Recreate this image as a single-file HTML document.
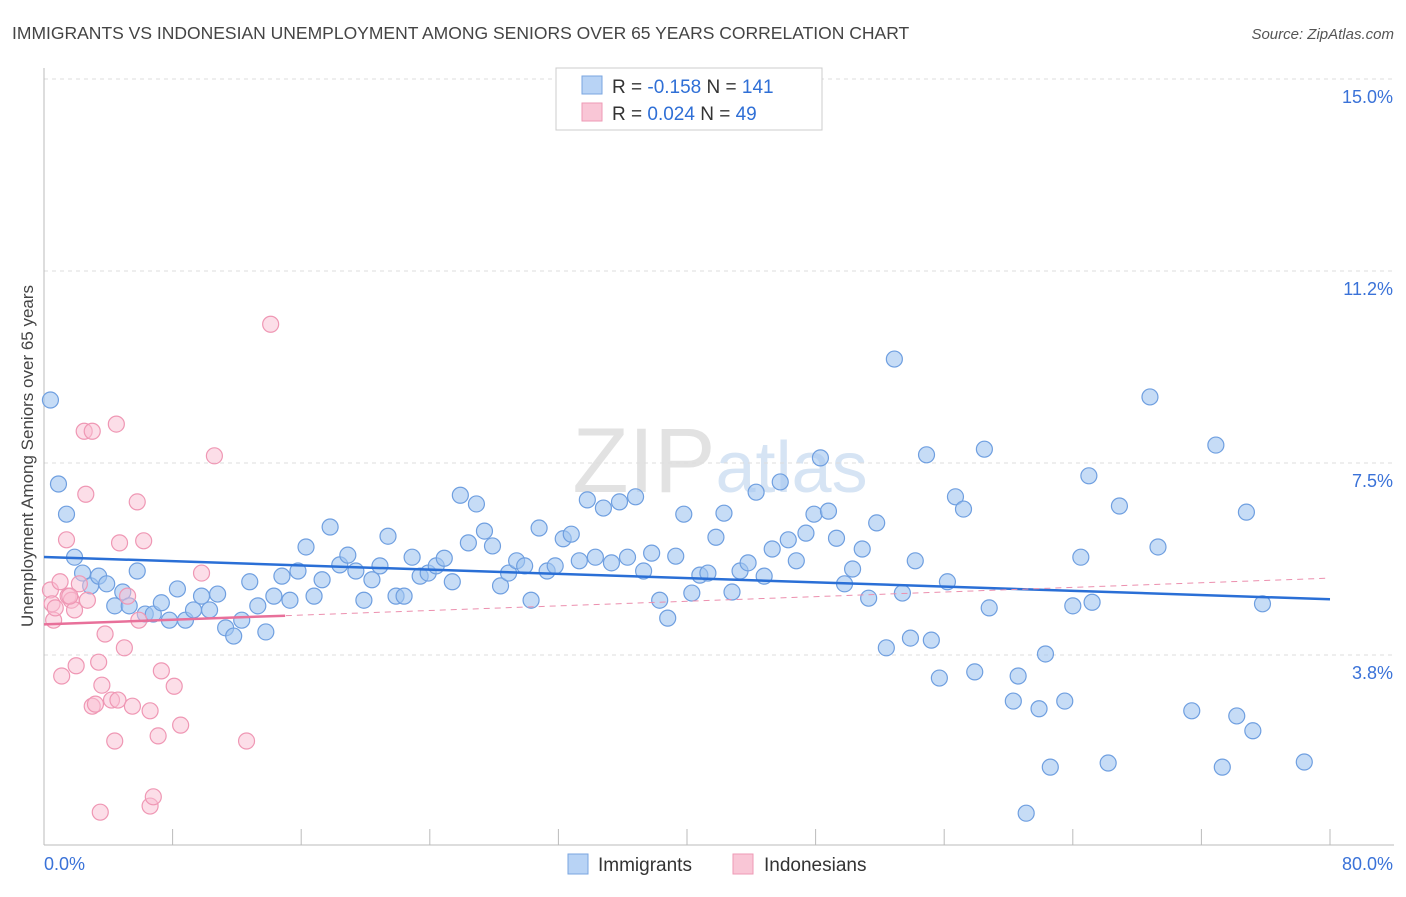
<!DOCTYPE html>
<html><head><meta charset="utf-8"><style>
body{margin:0;background:#fff;font-family:"Liberation Sans",sans-serif;}
svg text{font-family:"Liberation Sans",sans-serif;}
</style></head><body>
<svg id="chart" width="1406" height="892" viewBox="0 0 1406 892" xmlns="http://www.w3.org/2000/svg">
<text x="12" y="39" font-size="17.5" fill="#444">IMMIGRANTS VS INDONESIAN UNEMPLOYMENT AMONG SENIORS OVER 65 YEARS CORRELATION CHART</text>
<text x="1394" y="39" font-size="15" fill="#555" text-anchor="end" font-style="italic">Source: ZipAtlas.com</text>
<text x="720" y="492" font-size="92" fill="#e6e6e6" text-anchor="middle" font-family="Liberation Serif"><tspan fill="#e2e2e2">ZIP</tspan><tspan fill="#d6e4f4" font-family="Liberation Sans" font-size="72">atlas</tspan></text>
<g id="grid"></g>
<g id="axes"></g>
<g id="marks"></g>
<text transform="translate(33,456) rotate(-90)" font-size="17" fill="#444" text-anchor="middle">Unemployment Among Seniors over 65 years</text>
<g>
<rect x="556" y="68" width="266" height="62" fill="#fff" stroke="#ccc"/>
<rect x="582" y="76" width="20" height="18" fill="#b8d3f5" stroke="#7aa6e0"/>
<rect x="582" y="103" width="20" height="18" fill="#f9c6d6" stroke="#ee9ab5"/>
<text x="612" y="93" font-size="19" fill="#333">R = <tspan fill="#2f6fd6">-0.158</tspan>   N = <tspan fill="#2f6fd6">141</tspan></text>
<text x="612" y="120" font-size="19" fill="#333">R =  <tspan fill="#2f6fd6">0.024</tspan>   N =  <tspan fill="#2f6fd6">49</tspan></text>
</g>
<g>
<rect x="568" y="854" width="20" height="20" fill="#b8d3f5" stroke="#7aa6e0"/>
<text x="598" y="871" font-size="19" fill="#333">Immigrants</text>
<rect x="733" y="854" width="20" height="20" fill="#f9c6d6" stroke="#ee9ab5"/>
<text x="764" y="871" font-size="19" fill="#333">Indonesians</text>
</g>
</svg>
<script>
const blueX=[0.4,0.9,1.4,1.9,2.4,2.9,3.4,3.9,4.4,4.9,5.3,5.8,6.3,6.8,7.3,7.8,8.3,8.8,9.3,9.8,10.3,10.8,11.3,11.8,12.3,12.8,13.3,13.8,14.3,14.8,15.3,15.8,16.3,16.8,17.3,17.8,18.4,18.9,19.4,19.9,20.4,20.9,21.4,21.9,22.4,22.9,23.4,23.9,24.4,24.9,25.4,25.9,26.4,26.9,27.4,27.9,28.4,28.9,29.4,29.9,30.3,30.8,31.3,31.8,32.3,32.8,33.3,33.8,34.3,34.8,35.3,35.8,36.3,36.8,37.3,37.8,38.3,38.8,39.3,39.8,40.3,40.8,41.3,41.8,42.3,42.8,43.3,43.8,44.3,44.8,45.3,45.8,46.3,46.8,47.4,47.9,48.3,48.8,49.3,49.8,50.3,50.9,51.3,51.8,52.4,52.9,53.4,53.9,54.2,54.9,55.2,55.7,56.2,56.7,57.2,57.9,58.5,58.8,60.3,60.6,61.1,61.9,62.3,62.6,63.5,64.0,64.5,65.0,65.2,66.2,66.9,68.8,69.3,71.4,72.9,73.3,74.2,74.8,75.2,75.8,78.4];
const blueY=[8.73,7.09,6.50,5.66,5.35,5.10,5.29,5.14,4.71,4.98,4.71,5.39,4.55,4.55,4.77,4.43,5.04,4.43,4.63,4.90,4.63,4.94,4.28,4.12,4.43,5.18,4.71,4.20,4.90,5.29,4.82,5.39,5.86,4.90,5.22,6.25,5.51,5.70,5.39,4.82,5.22,5.49,6.07,4.90,4.90,5.66,5.29,5.35,5.49,5.64,5.18,6.87,5.94,6.70,6.17,5.88,5.10,5.35,5.59,5.49,4.82,6.23,5.39,5.49,6.02,6.11,5.59,6.78,5.66,6.62,5.55,6.74,5.66,6.84,5.39,5.74,4.82,4.47,5.68,6.50,4.96,5.31,5.35,6.05,6.52,4.98,5.39,5.55,6.93,5.29,5.82,7.13,6.00,5.59,6.13,6.50,7.60,6.56,6.03,5.14,5.43,5.82,4.86,6.33,3.89,9.53,4.96,4.08,5.59,7.66,4.04,3.30,5.18,6.84,6.60,3.42,7.77,4.67,2.85,3.34,0.66,2.70,3.77,1.56,2.85,4.71,5.66,7.25,4.78,1.64,6.66,8.79,5.86,2.66,7.85,1.56,2.56,6.54,2.27,4.75,1.66];
const pinkX=[0.4,0.5,0.6,0.7,1.0,1.1,1.4,1.5,1.7,1.9,2.0,2.2,2.5,2.6,2.7,3.0,3.0,3.2,3.4,3.6,3.8,4.2,4.4,4.5,4.6,4.7,5.0,5.2,5.5,5.8,5.9,6.2,6.6,6.6,6.8,7.1,7.3,8.1,8.5,9.8,10.6,12.6,14.1,3.5,1.6];
const pinkY=[5.02,4.75,4.43,4.67,5.18,3.34,6.00,4.90,4.82,4.63,3.54,5.14,8.12,6.89,4.82,8.12,2.75,2.79,3.61,3.16,4.16,2.87,2.07,8.26,2.87,5.94,3.89,4.90,2.75,6.74,4.43,5.98,2.66,0.80,0.98,2.17,3.44,3.14,2.38,5.35,7.64,2.07,10.21,0.68,4.90];
const yTicks=[3.75,7.5,11.25,15];
const yTickLabels=["3.8%","7.5%","11.2%","15.0%"];
const NS="http://www.w3.org/2000/svg";
const X0=44,X1=1330,Y0=847,PPY=51.2;
function sx(v){return X0+(X1-X0)*v/80;}
function sy(v){return Y0-v*PPY;}
function mk(tag,attrs,parent){const e=document.createElementNS(NS,tag);for(const k in attrs)e.setAttribute(k,attrs[k]);parent.appendChild(e);return e;}
const grid=document.getElementById('grid'),axes=document.getElementById('axes'),marks=document.getElementById('marks');
yTicks.forEach((t,i)=>{
 const l=mk('line',{x1:X0,x2:1394,y1:sy(t),y2:sy(t),stroke:'#ddd','stroke-dasharray':'4,4'},grid);
 
 
 const tx=mk('text',{x:1393,y:sy(t)+24,'font-size':18,fill:'#3a72d8','text-anchor':'end'},axes);
 tx.textContent=yTickLabels[i];
 
 
});
const ax=mk('line',{x1:X0,x2:1394,y1:845,y2:845,stroke:'#bbb'},axes);


const ay=mk('line',{x1:X0,x2:X0,y1:68,y2:845,stroke:'#bbb'},axes);


for(let i=0;i<=10;i++){
 const t=mk('line',{x1:sx(i*8),x2:sx(i*8),y1:829,y2:845,stroke:'#bbb'},axes);
 
 
}
const xl0=mk('text',{x:44,y:870,'font-size':18,fill:'#3a72d8'},axes);xl0.textContent='0.0%';


const xl1=mk('text',{x:1393,y:870,'font-size':18,fill:'#3a72d8','text-anchor':'end'},axes);xl1.textContent='80.0%';


function fit(xs,ys){const n=xs.length;let mx=0,my=0;for(let i=0;i<n;i++){mx+=xs[i];my+=ys[i];}mx/=n;my/=n;let a=0,b=0;for(let i=0;i<n;i++){a+=(xs[i]-mx)*(ys[i]-my);b+=(xs[i]-mx)**2;}const s=a/b;return [s,my-s*mx];}
blueX.forEach((x,i)=>{const c=mk('circle',{cx:sx(x),cy:sy(blueY[i]),r:8,fill:'rgba(160,196,240,0.6)',stroke:'#6f9fe0','stroke-width':1.2},marks);
 
 });
pinkX.forEach((x,i)=>{const c=mk('circle',{cx:sx(x),cy:sy(pinkY[i]),r:8,fill:'rgba(249,190,210,0.5)',stroke:'#ef97b4','stroke-width':1.2},marks);
 
 });
const [bs,bi]=fit(blueX,blueY);
const bl=mk('line',{x1:sx(0),y1:sy(bi),x2:sx(80),y2:sy(bi+bs*80),stroke:'#2a6fd6','stroke-width':2.5},marks);


const [ps,pi]=fit(pinkX,pinkY);
const pd=mk('line',{x1:sx(0),y1:sy(pi),x2:sx(80),y2:sy(pi+ps*80),stroke:'#ec8fae','stroke-width':1,'stroke-dasharray':'6,5'},marks);


const pl=mk('line',{x1:sx(0),y1:sy(pi),x2:sx(15),y2:sy(pi+ps*15),stroke:'#e8709a','stroke-width':2.5},marks);


</script>
</body></html>
